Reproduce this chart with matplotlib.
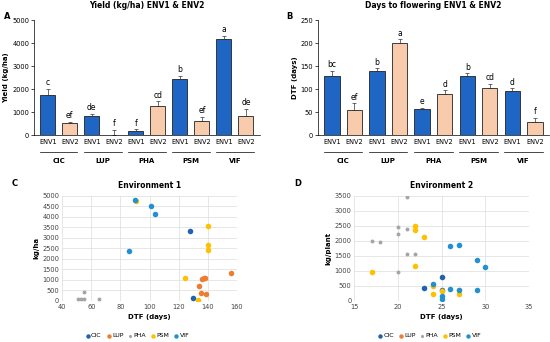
import matplotlib
matplotlib.use("Agg")
import matplotlib.pyplot as plt
import numpy as np

# ---- data ----
groups = ["CIC", "LUP", "PHA", "PSM", "VIF"]
envs = ["ENV1", "ENV2"]

yield_env1 = [1750, 820, 170, 2440, 4180]
yield_env2 = [530, 0, 1270, 620, 850]
yield_err1 = [270, 110, 100, 150, 150]
yield_err2 = [60, 230, 200, 180, 300]
yield_letters1 = ["c", "de", "f", "b", "a"]
yield_letters2 = ["ef", "f", "cd", "ef", "de"]

dtf_env1 = [128, 140, 56, 129, 97]
dtf_env2 = [54, 201, 89, 103, 28]
dtf_err1 = [12, 5, 4, 6, 5]
dtf_err2 = [16, 8, 9, 9, 10]
dtf_letters1 = ["bc", "b", "e", "b", "d"]
dtf_letters2 = ["ef", "a", "d", "cd", "f"]

# scatter, environment 1 (DTF days, kg/ha)
e1_x = {
    "CIC": [128, 130],
    "LUP": [134, 135, 136, 137, 138, 139, 156],
    "PHA": [55, 51, 53, 55, 65],
    "PSM": [91, 124, 133, 140, 140, 140],
    "VIF": [90, 101, 104, 86],
}
e1_y = {
    "CIC": [3320, 150],
    "LUP": [700, 380, 1050, 1080, 1100, 310, 1320],
    "PHA": [420, 80, 80, 80, 80],
    "PSM": [4770, 1110, 50, 3560, 2660, 2450],
    "VIF": [4820, 4530, 4150, 2400],
}
# scatter, environment 2 (DTF days, kg/plant)
e2_x = {
    "CIC": [23, 25, 25],
    "LUP": [],
    "PHA": [21, 20, 21, 20, 17, 18, 21, 22, 20, 25, 27],
    "PSM": [22, 22, 23, 22, 17, 24, 24, 25, 27, 27],
    "VIF": [26, 27, 29, 30, 24, 26, 27, 29, 25, 25],
}
e2_y = {
    "CIC": [420, 800, 380],
    "LUP": [],
    "PHA": [3450, 2480, 2400, 2230, 2010, 1950, 1560, 1560, 960, 380, 380],
    "PSM": [2500, 2370, 2130, 1170, 950, 510, 240, 330, 380, 240],
    "VIF": [1830, 1870, 1370, 1130, 550, 390, 360, 370, 150, 60],
}

blue_bar = "#1f66c4"
peach_bar = "#f8cbad"
scatter_colors = {"CIC": "#2162b0", "LUP": "#ed7d31", "PHA": "#a5a5a5",
                  "PSM": "#ffc000", "VIF": "#2391d1"}

plt.rcParams["font.family"] = "DejaVu Sans"
fig = plt.figure(figsize=(5.5, 3.42), dpi=100)


def bar_panel(rect, v1, v2, e1, e2, l1, l2, ylim, ystep, ylabel, title, pad):
    ax = fig.add_axes(rect)
    n = len(groups)
    x1 = np.arange(n) * 2
    x2 = x1 + 1
    kw = dict(width=0.68, edgecolor="#222222", linewidth=0.6, zorder=2)
    ekw = dict(ecolor="#333333", elinewidth=0.5, capsize=1.5, capthick=0.5)
    ax.bar(x1, v1, color=blue_bar, **kw)
    ax.bar(x2, v2, color=peach_bar, **kw)
    ax.errorbar(x1, v1, yerr=[np.zeros(n), e1], fmt="none", **ekw)
    ax.errorbar(x2, v2, yerr=[np.zeros(n), e2], fmt="none", **ekw)
    for x, v, e, t in zip(x1, v1, e1, l1):
        ax.text(x, v + e + pad, t, ha="center", va="bottom", fontsize=5.5)
    for x, v, e, t in zip(x2, v2, e2, l2):
        ax.text(x, v + e + pad, t, ha="center", va="bottom", fontsize=5.5)
    ax.set_xlim(-0.62, 2 * n - 1 + 0.62)
    ax.set_ylim(0, ylim)
    ax.set_yticks(np.arange(0, ylim + 1, ystep))
    xt = np.arange(2 * n)
    ax.set_xticks(xt)
    ax.set_xticklabels(envs * n)
    ax.tick_params(axis="x", length=0, labelsize=4.8, pad=3)
    ax.tick_params(axis="y", length=2, width=0.5, labelsize=4.8, pad=1.5)
    for s in ["top", "right"]:
        ax.spines[s].set_visible(False)
    ax.spines["left"].set_linewidth(0.5)
    ax.spines["bottom"].set_linewidth(0.5)
    tr = ax.get_xaxis_transform()
    for i, g in enumerate(groups):
        c = 2 * i + 0.5
        ax.plot([c - 0.85, c + 0.85], [-0.15, -0.15], color="black", lw=0.5,
                transform=tr, clip_on=False)
        ax.text(c, -0.2, g, transform=tr, ha="center", va="top",
                fontsize=5, fontweight="bold")
    ax.set_ylabel(ylabel, fontsize=5, fontweight="bold", labelpad=2)
    ax.set_title(title, fontsize=5.5, fontweight="bold", pad=9)
    return ax


bar_panel([0.062, 0.605, 0.41, 0.336], yield_env1, yield_env2, yield_err1,
          yield_err2, yield_letters1, yield_letters2, 5000, 1000,
          "Yield (kg/ha)", "Yield (kg/ha) ENV1 & ENV2", 60)
bar_panel([0.578, 0.605, 0.42, 0.336], dtf_env1, dtf_env2, dtf_err1,
          dtf_err2, dtf_letters1, dtf_letters2, 250, 50,
          "DTF (days)", "Days to flowering ENV1 & ENV2", 3)


def scatter_panel(rect, xs, ys, xlim, xstep, ylim, ystep, ylabel, title):
    ax = fig.add_axes(rect)
    for g in groups:
        size = 8 if g == "PHA" else 16
        ax.scatter(xs[g], ys[g], s=size, color=scatter_colors[g], label=g,
                   zorder=3, linewidths=0)
    ax.set_xlim(*xlim)
    ax.set_ylim(*ylim)
    ax.set_xticks(np.arange(xlim[0], xlim[1] + 0.1, xstep))
    ax.set_yticks(np.arange(ylim[0], ylim[1] + 1, ystep))
    ax.grid(True, color="#dddddd", lw=0.5, zorder=0)
    ax.set_axisbelow(True)
    for s in ax.spines.values():
        s.set_visible(False)
    ax.tick_params(length=0, labelsize=4.8, pad=2, colors="#444444")
    ax.set_xlabel("DTF (days)", fontsize=5, fontweight="bold", labelpad=3)
    ax.set_ylabel(ylabel, fontsize=5, fontweight="bold", labelpad=2)
    ax.set_title(title, fontsize=5.5, fontweight="bold", pad=6)
    ax.legend(loc="upper center", bbox_to_anchor=(0.43, -0.28), ncol=5,
              frameon=False, fontsize=4.5, handletextpad=0.15,
              handlelength=0.8, columnspacing=0.7, markerscale=0.8,
              borderaxespad=0)
    return ax


scatter_panel([0.113, 0.12, 0.318, 0.307], e1_x, e1_y, (40, 160), 20,
              (0, 5000), 500, "kg/ha", "Environment 1")
scatter_panel([0.644, 0.12, 0.318, 0.307], e2_x, e2_y, (15, 35), 5,
              (0, 3500), 500, "kg/plant", "Environment 2")

for x, y, t in [(0.008, 0.965, "A"), (0.52, 0.965, "B"),
                (0.022, 0.478, "C"), (0.535, 0.478, "D")]:
    fig.text(x, y, t, fontsize=6, fontweight="bold", va="top")

fig.savefig("out.png", dpi=100, facecolor="white")
